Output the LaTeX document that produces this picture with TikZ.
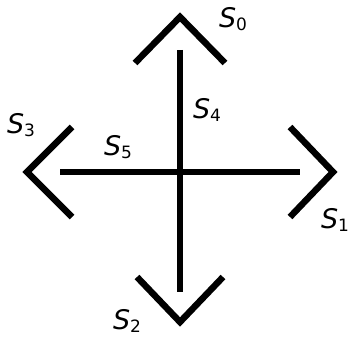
\documentclass[tikz,border=0pt]{standalone}
\usepackage{fontspec}
\setmainfont{DejaVu Sans}
\newcommand\lblsub[1]{\raisebox{-2.5pt}{\fontsize{17}{19}\selectfont #1}}
\begin{document}
\begin{tikzpicture}[
    x=1pt, y=-1pt,
    bar/.style={line width=6.5pt, line cap=butt},
    chevron/.style={line width=6.5pt, line join=miter},
    lbl/.style={font=\fontsize{27}{30}\selectfont, inner sep=0pt}
]
  \useasboundingbox (0,0) rectangle (351,337);

  % four chevrons
  \draw[chevron] (135,63) -- (180,17) -- (225,63);
  \draw[chevron] (290,127) -- (333,172) -- (290,217);
  \draw[chevron] (137,277) -- (180,322) -- (223,277);
  \draw[chevron] (72,127) -- (27,172) -- (72,217);

  % cross
  \draw[bar] (180,50) -- (180,292);
  \draw[bar] (60,172) -- (300,172);

  \node[lbl] (s0) at (233,19) {\textit{S}\lblsub{0}};
  \node[lbl] (s1) at (335,220) {\textit{S}\lblsub{1}};
  \node[lbl] (s2) at (127,321) {\textit{S}\lblsub{2}};
  \node[lbl] (s3) at (21,125) {\textit{S}\lblsub{3}};
  \node[lbl] (s4) at (207,110) {\textit{S}\lblsub{4}};
  \node[lbl] (s5) at (118,147) {\textit{S}\lblsub{5}};
\end{tikzpicture}
\end{document}
